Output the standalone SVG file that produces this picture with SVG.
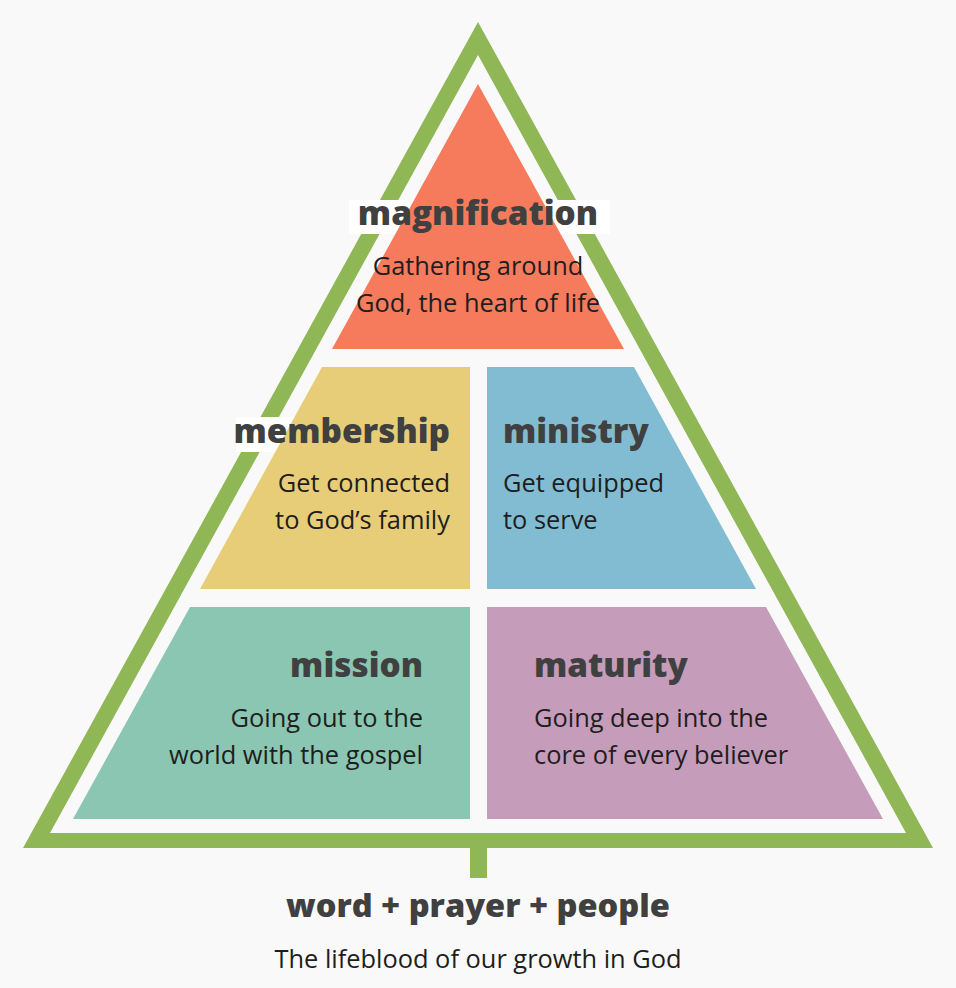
<svg xmlns="http://www.w3.org/2000/svg" width="956" height="988" viewBox="0 0 956 988">
  <style>
    .title { font-family: "Open Sans", "Liberation Sans", sans-serif; font-weight: 800; font-size: 33.3px; fill: #404040; }
    .desc { font-family: "Open Sans", "Liberation Sans", sans-serif; font-weight: 400; font-size: 25.4px; fill: #1e1e1e; }
    .band { fill: #8fb755; }
    .label-bg { fill: #ffffff; }
  </style>
  <rect x="0" y="0" width="956" height="988" fill="#f9f9f9"/>

  <g id="frame">
    <path class="band" fill-rule="evenodd" d="M478,22 L933,848 L23,848 Z M478,55 L50,833 L906,833 Z"/>
    <rect class="band" x="470" y="847" width="17" height="31"/>
  </g>

  <g id="label-backgrounds">
    <rect class="label-bg" x="349" y="200" width="261" height="34"/>
    <rect class="label-bg" x="236" y="417" width="60" height="35"/>
  </g>

  <g id="magnification">
    <polygon points="478,84 624,349 332,349" fill="#f57b5c"/>
    <text class="title" x="478" y="225" text-anchor="middle">magnification</text>
    <text class="desc" x="478" y="275" text-anchor="middle">Gathering around</text>
    <text class="desc" x="478" y="312" text-anchor="middle">God, the heart of life</text>
  </g>

  <g id="membership">
    <polygon points="322,367 470,367 470,589 200,589" fill="#e8cd79"/>
    <text class="title" x="450" y="443" text-anchor="end">membership</text>
    <text class="desc" x="450" y="492" text-anchor="end">Get connected</text>
    <text class="desc" x="450" y="529" text-anchor="end">to God’s family</text>
  </g>

  <g id="ministry">
    <polygon points="487,367 634,367 756,589 487,589" fill="#82bcd3"/>
    <text class="title" x="503" y="443">ministry</text>
    <text class="desc" x="503" y="492">Get equipped</text>
    <text class="desc" x="503" y="529">to serve</text>
  </g>

  <g id="mission">
    <polygon points="190,607 470,607 470,819 73,819" fill="#8ac6b1"/>
    <text class="title" x="423" y="677" text-anchor="end">mission</text>
    <text class="desc" x="423" y="727" text-anchor="end">Going out to the</text>
    <text class="desc" x="423" y="764" text-anchor="end">world with the gospel</text>
  </g>

  <g id="maturity">
    <polygon points="487,607 766,607 883,819 487,819" fill="#c59cba"/>
    <text class="title" x="534" y="677">maturity</text>
    <text class="desc" x="534" y="727">Going deep into the</text>
    <text class="desc" x="534" y="764">core of every believer</text>
  </g>

  <g id="foundation">
    <text class="title" x="478" y="917" text-anchor="middle" style="font-size:32.6px">word + prayer + people</text>
    <text class="desc" x="478" y="968" text-anchor="middle">The lifeblood of our growth in God</text>
  </g>

  <g id="connectors"></g>
</svg>
